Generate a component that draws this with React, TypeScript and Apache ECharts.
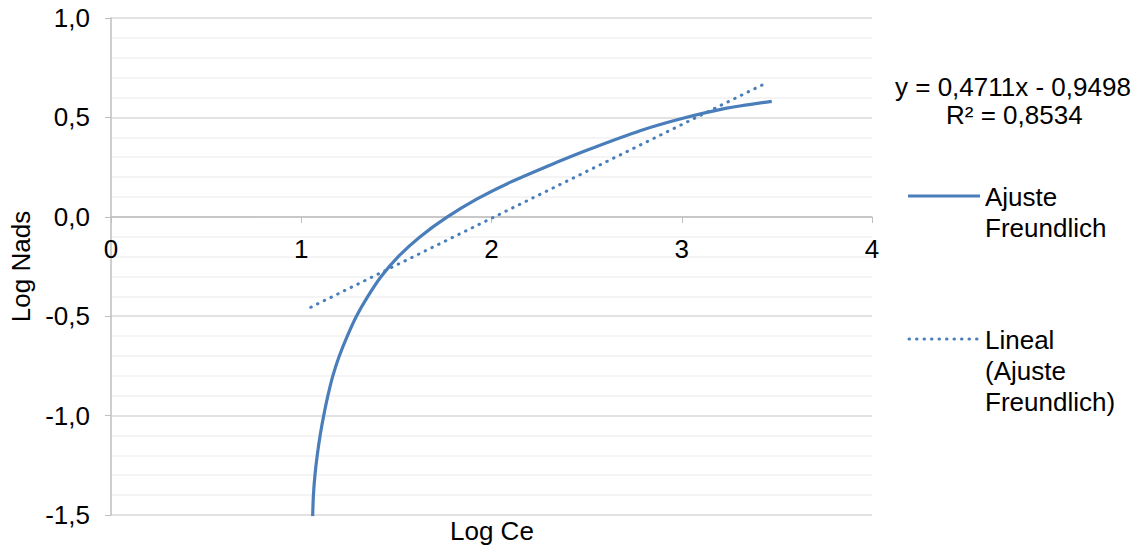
import React, { useEffect, useRef } from "react";
import * as echarts from "echarts";

const curveX = [1.06, 1.064, 1.072, 1.084, 1.1, 1.118, 1.14, 1.166, 1.2, 1.242, 1.29, 1.35, 1.42, 1.51, 1.625, 1.764, 1.922, 2.097, 2.343, 2.518, 2.781, 2.991, 3.218, 3.473];
const curveY = [-1.506, -1.4, -1.3, -1.2, -1.095, -1.0, -0.9, -0.8, -0.7, -0.6, -0.5, -0.4, -0.3, -0.2, -0.1, -0.003, 0.089, 0.173, 0.274, 0.341, 0.433, 0.492, 0.543, 0.581];
const trendX = [1.05, 3.45];
const trendY = [-0.455, 0.676];
const xTicks = [0, 1, 2, 3, 4];
const equationText = "y = 0,4711x - 0,9498";
const r2Text = "R² = 0,8534";
const seriesNames = ["Ajuste Freundlich", "Lineal (Ajuste Freundlich)"];

const BLUE = "#4A7EBB";
const FONT = "'Liberation Sans', Arial, sans-serif";
const FS = 26;

export default function App() {
  const ref = useRef<HTMLDivElement>(null);
  useEffect(() => {
    if (!ref.current) return;
    const chart = echarts.init(ref.current, undefined, { renderer: "svg" });
    const curve = curveX.map((x, i) => [x, curveY[i]]);
    const trend = trendX.map((x, i) => [x, trendY[i]]);
    const textStyle = { fontFamily: FONT, fontSize: FS, fill: "#000" };
    chart.setOption({
      animation: false,
      textStyle: { fontFamily: FONT },
      grid: { left: 111, right: 274, top: 18, bottom: 39, containLabel: false },
      xAxis: {
        type: "value",
        min: xTicks[0],
        max: xTicks[xTicks.length - 1],
        interval: 1,
        offset: -298,
        axisLine: { onZero: false, lineStyle: { color: "#BFBFBF", width: 1.5 } },
        axisTick: { show: true, length: 6, lineStyle: { color: "#BFBFBF" } },
        axisLabel: { color: "#000", fontSize: FS, fontFamily: FONT, margin: 19 },
        splitLine: { show: false },
      },
      yAxis: {
        type: "value",
        min: -1.5,
        max: 1,
        interval: 0.5,
        name: "Log Nads",
        nameLocation: "middle",
        nameGap: 76,
        nameRotate: 90,
        nameTextStyle: { color: "#000", fontSize: FS, fontFamily: FONT },
        axisLine: { show: true, onZero: false, lineStyle: { color: "#BFBFBF", width: 1.5 } },
        axisTick: { show: true, length: 6, lineStyle: { color: "#BFBFBF" } },
        axisLabel: {
          color: "#000",
          fontSize: FS,
          fontFamily: FONT,
          margin: 21,
          formatter: (v: number) => v.toFixed(1).replace(".", ","),
        },
        splitLine: { show: true, lineStyle: { color: "#D9D9D9", width: 1.5 } },
        minorTick: { show: false, splitNumber: 5 },
        minorSplitLine: { show: true, lineStyle: { color: "#F0F0F0", width: 1.5 } },
      },
      series: [
        {
          name: seriesNames[0],
          type: "line",
          data: curve,
          smooth: 0.3,
          showSymbol: false,
          symbol: "none",
          lineStyle: { color: BLUE, width: 3.2 },
          z: 3,
        },
        {
          name: seriesNames[1],
          type: "line",
          data: trend,
          showSymbol: false,
          symbol: "none",
          lineStyle: { color: BLUE, width: 3, type: [0.5, 7], cap: "round" },
          z: 2,
        },
      ],
      graphic: [
        { type: "text", left: 895, top: 74, style: { ...textStyle, text: equationText } },
        { type: "text", left: 946, top: 102, style: { ...textStyle, text: r2Text } },
        {
          type: "line",
          shape: { x1: 908, y1: 196, x2: 980, y2: 196 },
          style: { stroke: BLUE, lineWidth: 3.2 },
        },
        { type: "text", left: 985, top: 181, style: { ...textStyle, text: "Ajuste\nFreundlich", lineHeight: 31 } },
        {
          type: "line",
          shape: { x1: 909, y1: 339, x2: 978, y2: 339 },
          style: { stroke: BLUE, lineWidth: 3, lineDash: [0.5, 7], lineCap: "round" },
        },
        { type: "text", left: 985, top: 324, style: { ...textStyle, text: "Lineal\n(Ajuste\nFreundlich)", lineHeight: 31 } },
        { type: "text", left: 450, top: 518, style: { ...textStyle, text: "Log Ce" } },
      ],
    });
    return () => chart.dispose();
  }, []);
  return (
    <div
      ref={ref}
      style={{ position: "fixed", left: 0, top: 0, width: 1146, height: 554, background: "#fff" }}
    />
  );
}
